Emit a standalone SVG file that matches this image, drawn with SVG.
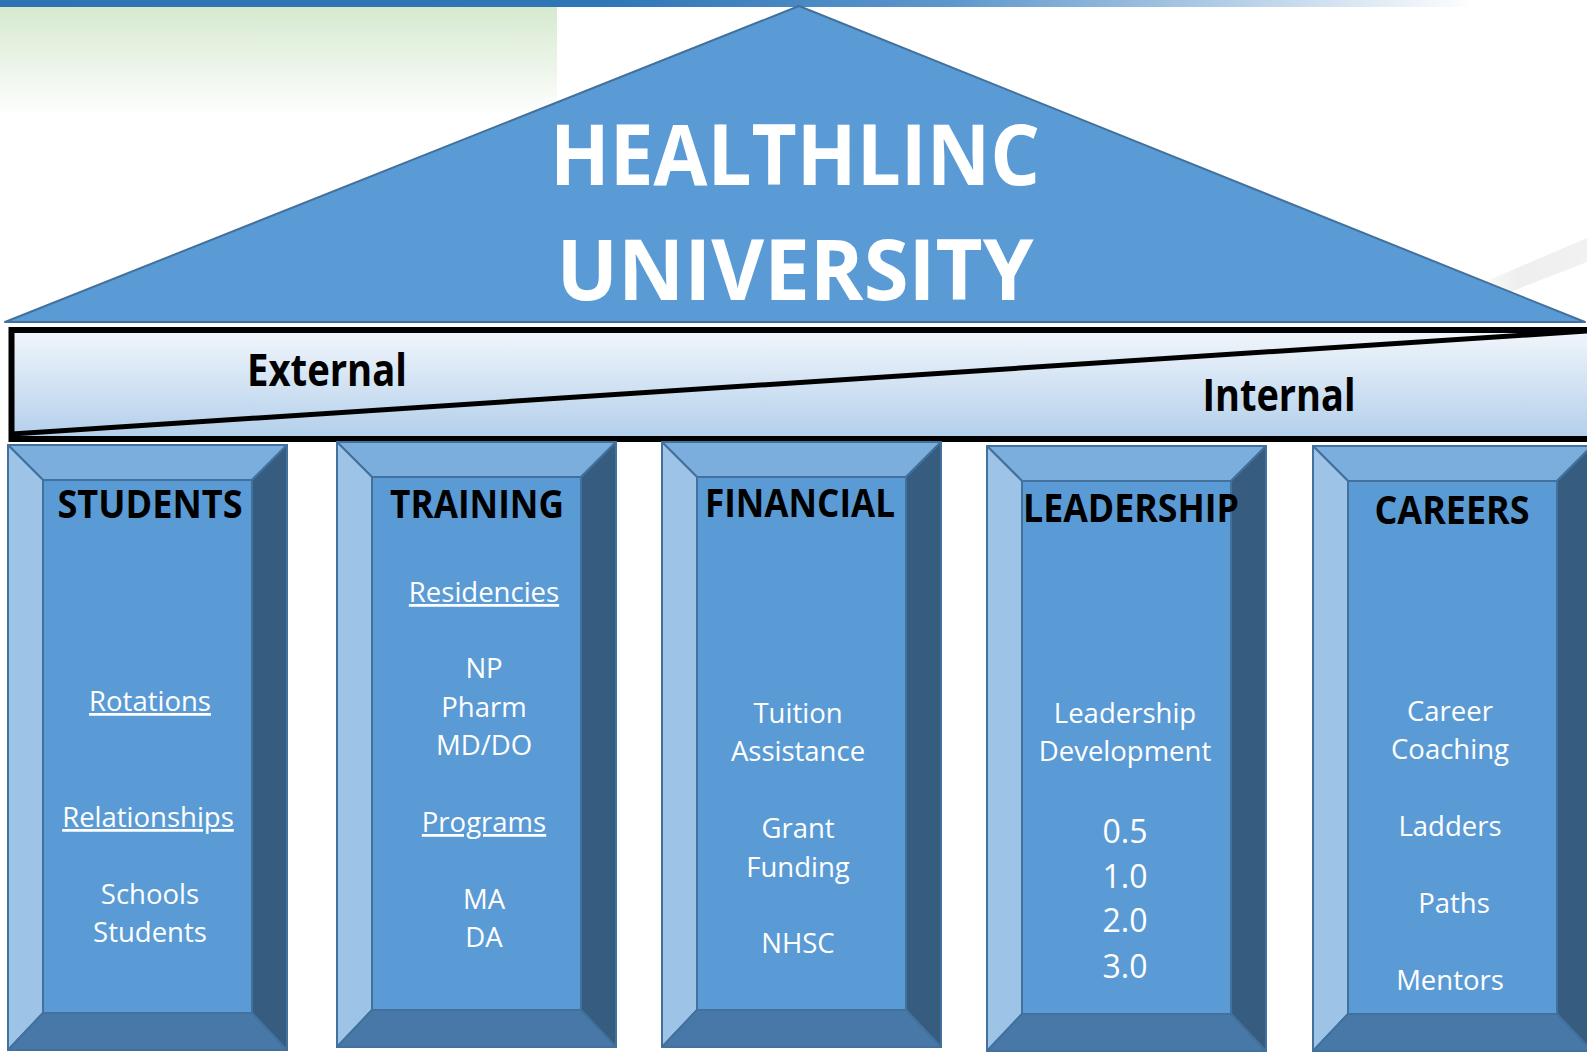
<svg xmlns="http://www.w3.org/2000/svg" xmlns:xlink="http://www.w3.org/1999/xlink" width="1587" height="1052" viewBox="0 0 1587 1052">
  <defs>
    <linearGradient id="topbar" x1="0" y1="0" x2="1" y2="0">
      <stop offset="0" stop-color="#2e74b5"/>
      <stop offset="0.38" stop-color="#2f76b6"/>
      <stop offset="0.6" stop-color="#5e97cc"/>
      <stop offset="0.93" stop-color="#ffffff"/>
    </linearGradient>
    <linearGradient id="greenwash" x1="0" y1="0" x2="0" y2="1">
      <stop offset="0" stop-color="#d6e9cf"/>
      <stop offset="1" stop-color="#ffffff"/>
    </linearGradient>
    <linearGradient id="bandfill" x1="0" y1="0" x2="0" y2="1">
      <stop offset="0" stop-color="#f2f6fb"/>
      <stop offset="1" stop-color="#b2cfeb"/>
    </linearGradient>
    <linearGradient id="swoosh" x1="0" y1="0" x2="1" y2="0">
      <stop offset="0" stop-color="#e6e6e6" stop-opacity="0"/>
      <stop offset="0.4" stop-color="#e8e8e8" stop-opacity="0.7"/>
      <stop offset="1" stop-color="#eeeeee" stop-opacity="0.8"/>
    </linearGradient>
    <!-- bevelled column: outer 279x605, inner face inset by 35 -->
    <g id="pillar-shape">
      <rect class="face" x="0" y="0" width="279" height="605"/>
      <polygon class="bev-top" points="0,0 279,0 244,35 35,35"/>
      <polygon class="bev-left" points="0,0 35,35 35,568 0,605"/>
      <polygon class="bev-right" points="279,0 279,605 244,568 244,35"/>
      <polygon class="bev-bottom" points="0,605 35,568 244,568 279,605"/>
      <rect class="face" x="35" y="35" width="209" height="533"/>
    </g>
  </defs>
  <style>
    .face { fill: #5b9bd5; stroke: #41719c; stroke-width: 2; }
    .bev-top { fill: #7caedd; stroke: #41719c; stroke-width: 2; stroke-linejoin: round; }
    .bev-left { fill: #9dc3e6; stroke: #41719c; stroke-width: 2; stroke-linejoin: round; }
    .bev-right { fill: #365d80; stroke: #41719c; stroke-width: 2; stroke-linejoin: round; }
    .bev-bottom { fill: #4778a7; stroke: #41719c; stroke-width: 2; stroke-linejoin: round; }
    .title { font-family: "Open Sans", "Liberation Sans", sans-serif; font-weight: bold; font-size: 85px; fill: #ffffff; text-anchor: middle; }
    .side { font-family: "Open Sans", "Liberation Sans", sans-serif; font-weight: bold; font-size: 44px; fill: #000000; text-anchor: middle; }
    .head { font-family: "Open Sans", "Liberation Sans", sans-serif; font-weight: bold; font-size: 40px; fill: #000000; text-anchor: middle; }
    .item { font-family: "Open Sans", "Liberation Sans", sans-serif; font-size: 27.5px; fill: #ffffff; text-anchor: middle; }
    .num { font-family: "Open Sans", "Liberation Sans", sans-serif; font-size: 32px; fill: #ffffff; text-anchor: middle; }
    .ul { text-decoration: underline; }
  </style>

  <!-- page background -->
  <rect x="0" y="0" width="1587" height="1052" fill="#ffffff"/>
  <rect x="0" y="7" width="557" height="110" fill="url(#greenwash)"/>
  <rect x="0" y="0" width="1587" height="7" fill="url(#topbar)"/>
  <path d="M1470,288 L1587,238 L1587,262 L1500,296 Z" fill="url(#swoosh)"/>

  <!-- roof -->
  <g id="roof">
    <polygon points="799,6 1585,322 5,322" fill="#5b9bd5" stroke="#41719c" stroke-width="2" stroke-linejoin="round"/>
    <text class="title" x="795" y="185" textLength="490" lengthAdjust="spacingAndGlyphs">HEALTHLINC</text>
    <text class="title" x="795" y="300" textLength="477" lengthAdjust="spacingAndGlyphs">UNIVERSITY</text>
  </g>

  <!-- external / internal band -->
  <g id="band">
    <rect x="11.5" y="330" width="1600" height="109" fill="url(#bandfill)" stroke="#000000" stroke-width="6"/>
    <line x1="12" y1="434" x2="1587" y2="331" stroke="#000000" stroke-width="5"/>
    <text class="side" x="327" y="386" textLength="160" lengthAdjust="spacingAndGlyphs">External</text>
    <text class="side" x="1279" y="411" textLength="153" lengthAdjust="spacingAndGlyphs">Internal</text>
  </g>

  <!-- columns -->
  <g id="students">
    <use xlink:href="#pillar-shape" transform="translate(8,445)"/>
    <text class="head" x="150" y="518" textLength="185" lengthAdjust="spacingAndGlyphs">STUDENTS</text>
    <text class="item ul" x="150" y="711">Rotations</text>
    <text class="item ul" x="148" y="827">Relationships</text>
    <text class="item" x="150" y="904">Schools</text>
    <text class="item" x="150" y="942">Students</text>
  </g>

  <g id="training">
    <use xlink:href="#pillar-shape" transform="translate(337,442)"/>
    <text class="head" x="477" y="518" textLength="174" lengthAdjust="spacingAndGlyphs">TRAINING</text>
    <text class="item ul" x="484" y="602">Residencies</text>
    <text class="item" x="484" y="678">NP</text>
    <text class="item" x="484" y="717">Pharm</text>
    <text class="item" x="484" y="755">MD/DO</text>
    <text class="item ul" x="484" y="832">Programs</text>
    <text class="item" x="484" y="909">MA</text>
    <text class="item" x="484" y="947">DA</text>
  </g>

  <g id="financial">
    <use xlink:href="#pillar-shape" transform="translate(662,442)"/>
    <text class="head" x="800" y="517" textLength="190" lengthAdjust="spacingAndGlyphs">FINANCIAL</text>
    <text class="item" x="798" y="723">Tuition</text>
    <text class="item" x="798" y="761">Assistance</text>
    <text class="item" x="798" y="838">Grant</text>
    <text class="item" x="798" y="877">Funding</text>
    <text class="item" x="798" y="953">NHSC</text>
  </g>

  <g id="leadership">
    <use xlink:href="#pillar-shape" transform="translate(987,446)"/>
    <text class="head" x="1131" y="522" textLength="216" lengthAdjust="spacingAndGlyphs">LEADERSHIP</text>
    <text class="item" x="1125" y="723">Leadership</text>
    <text class="item" x="1125" y="761">Development</text>
    <text class="num" x="1125" y="843">0.5</text>
    <text class="num" x="1125" y="888">1.0</text>
    <text class="num" x="1125" y="932">2.0</text>
    <text class="num" x="1125" y="978">3.0</text>
  </g>

  <g id="careers">
    <use xlink:href="#pillar-shape" transform="translate(1313,446)"/>
    <text class="head" x="1452" y="524" textLength="155" lengthAdjust="spacingAndGlyphs">CAREERS</text>
    <text class="item" x="1450" y="721">Career</text>
    <text class="item" x="1450" y="759">Coaching</text>
    <text class="item" x="1450" y="836">Ladders</text>
    <text class="item" x="1454" y="913">Paths</text>
    <text class="item" x="1450" y="990">Mentors</text>
  </g>

  <!-- no connectors in this picture -->
  <g id="connectors"/>
</svg>
